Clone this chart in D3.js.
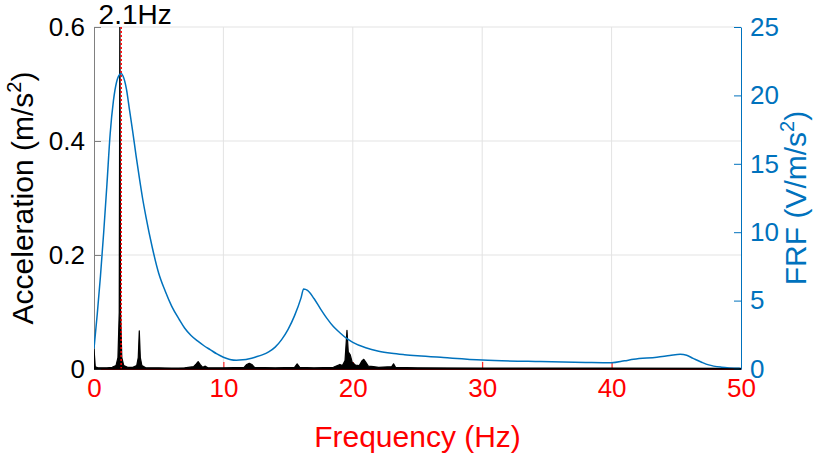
<!DOCTYPE html>
<html><head><meta charset="utf-8">
<script src="https://cdn.jsdelivr.net/npm/d3@7"></script>
<style>body{margin:0;background:#fff}svg{display:block;font-family:"Liberation Sans",Arial,Helvetica,sans-serif}</style>
</head><body>
<svg id="c" width="830" height="464"></svg>
<script>
// ---- data ----
const xTicks = [0,10,20,30,40,50];
const yLeftTicks = [0,0.2,0.4,0.6];
const yRightTicks = [0,5,10,15,20,25];
const peakFreq = 2.1;
const peakLabel = "2.1Hz";

// FRF curve (Hz, V/m/s^2)
const frfFreq = [0,0.25,0.5,0.75,1.0,1.25,1.5,1.75,2.0,2.1,2.25,2.5,2.75,3.0,3.25,3.5,3.75,4.0,4.5,5.0,5.5,6.0,6.6,7.0,7.5,8.0,8.5,9.0,9.5,10,10.5,11.0,11.5,12,12.5,13,13.5,14,14.5,15,15.5,16.0,16.2,16.5,17,17.5,18,18.5,19,19.5,20,21,22,23,24,25,27,30,34.5,38,40,41,41.7,43.5,44.5,45.3,45.8,46.3,47,47.5,48.5,49.9];
const frfVal  = [1.5,4.0,6.8,10,13.5,17.2,19.6,21.0,21.55,21.6,21.4,20.5,18.9,17.3,15.6,14.0,12.5,11.2,8.9,7.0,5.7,4.6,3.6,3.0,2.45,2.05,1.7,1.4,1.1,0.86,0.7,0.64,0.67,0.75,0.88,1.03,1.25,1.6,2.15,2.9,3.9,5.2,5.85,5.75,5.15,4.4,3.7,3.1,2.65,2.25,1.95,1.55,1.3,1.15,1.05,0.97,0.84,0.66,0.54,0.48,0.46,0.6,0.71,0.86,0.98,1.07,1.0,0.78,0.48,0.3,0.13,0.05];

// Acceleration spectrum (Hz, m/s^2)
const accFreq = [0,0.1,0.3,0.6,1.0,1.4,1.7,1.85,1.95,2.0,2.05,2.15,2.3,2.6,3.0,3.3,3.42,3.5,3.58,3.7,4.0,5,6,7,7.7,7.9,8.05,8.2,8.4,8.6,8.8,10,11.6,11.8,12.0,12.2,12.4,14,15.5,15.7,15.9,17,18.5,19.0,19.2,19.4,19.55,19.65,19.8,19.95,20.2,20.5,20.7,20.85,21.0,21.2,21.6,22,23.0,23.15,23.3,25,30,40,50];
const accVal  = [0.035,0.004,0.002,0.002,0.002,0.003,0.006,0.02,0.1,0.65,0.1,0.02,0.006,0.003,0.003,0.006,0.02,0.067,0.02,0.006,0.002,0.002,0.0015,0.002,0.004,0.009,0.013,0.008,0.003,0.005,0.002,0.002,0.003,0.008,0.01,0.008,0.003,0.002,0.003,0.009,0.003,0.002,0.003,0.008,0.006,0.015,0.068,0.03,0.025,0.012,0.007,0.006,0.014,0.017,0.012,0.005,0.004,0.003,0.004,0.009,0.003,0.002,0.0015,0.0015,0.001];

// ---- chart ----
const svg = d3.select("#c");
const L=94, R=741, T=27, B=369;
const x = d3.scaleLinear([0,50],[L,R]);
const yL = d3.scaleLinear([0,0.6],[B,T]);
const yR = d3.scaleLinear([0,25],[B,T]);
const blue = "#0072BD", red = "#FF0000";

svg.append("clipPath").attr("id","clip").append("rect").attr("x",L).attr("y",T).attr("width",R-L).attr("height",B-T);

// grid
const grid = svg.append("g").attr("stroke","#e3e3e3").attr("stroke-width",1);
xTicks.slice(1,-1).forEach(v=>grid.append("line").attr("x1",x(v)).attr("x2",x(v)).attr("y1",T).attr("y2",B));
yLeftTicks.slice(1).forEach(v=>grid.append("line").attr("x1",L).attr("x2",R).attr("y1",yL(v)).attr("y2",yL(v)));

// x axis
const gx = svg.append("g").attr("transform",`translate(0,${B})`)
  .call(d3.axisBottom(x).tickValues(xTicks).tickSizeInner(-7).tickSizeOuter(0).tickPadding(10));
gx.select(".domain").attr("stroke",red);
gx.selectAll(".tick line").attr("stroke",red);
gx.selectAll(".tick text").attr("fill",red).attr("font-size",26).attr("font-family",null);

// left axis
const gl = svg.append("g").attr("transform",`translate(${L},0)`)
  .call(d3.axisLeft(yL).tickValues(yLeftTicks).tickFormat(d=>d===0?"0":d3.format(".1f")(d)).tickSizeInner(-7).tickSizeOuter(0).tickPadding(9));
gl.select(".domain").attr("stroke","#808080");
gl.selectAll(".tick line").attr("stroke","#808080");
gl.selectAll(".tick text").attr("fill","#000").attr("font-size",26).attr("font-family",null);

// right axis
const gr = svg.append("g").attr("transform",`translate(${R},0)`)
  .call(d3.axisRight(yR).tickValues(yRightTicks).tickSizeInner(-7).tickSizeOuter(0).tickPadding(9));
gr.select(".domain").attr("stroke",blue);
gr.selectAll(".tick line").attr("stroke",blue);
gr.selectAll(".tick text").attr("fill",blue).attr("font-size",26).attr("font-family",null);

// data
const plot = svg.append("g").attr("clip-path","url(#clip)");
const acc = accFreq.map((f,i)=>[f,accVal[i]]);
plot.append("path").datum(acc)
  .attr("d",d3.area().x(d=>x(d[0])).y0(yL(0)).y1(d=>yL(d[1])))
  .attr("fill","#000").attr("stroke","#000").attr("stroke-width",1.2).attr("stroke-linejoin","round");

plot.append("line").attr("x1",x(peakFreq)).attr("x2",x(peakFreq)).attr("y1",T).attr("y2",B)
  .attr("stroke",red).attr("stroke-width",1.5).attr("stroke-dasharray","2,2");

const frf = frfFreq.map((f,i)=>[f,frfVal[i]]);
plot.append("path").datum(frf)
  .attr("d",d3.line().x(d=>x(d[0])).y(d=>yR(d[1])).curve(d3.curveMonotoneX))
  .attr("fill","none").attr("stroke",blue).attr("stroke-width",1.5);

// baseline
svg.append("line").attr("x1",L).attr("x2",R).attr("y1",B).attr("y2",B).attr("stroke","#000").attr("stroke-width",1.5);

// peak label
svg.append("text").attr("x",x(peakFreq)+14).attr("y",T-3).attr("text-anchor","middle")
  .attr("font-size",28).attr("fill","#000").text(peakLabel);

// titles
svg.append("text").attr("x",(L+R)/2).attr("y",447).attr("text-anchor","middle")
  .attr("font-size",30).attr("fill",red).text("Frequency (Hz)");

const lt = svg.append("text").attr("transform",`translate(33,${(T+B)/2}) rotate(-90)`).attr("text-anchor","middle")
  .attr("font-size",30).attr("fill","#000");
lt.append("tspan").text("Acceleration (m/s");
lt.append("tspan").attr("font-size",20).attr("dy",-12).text("2");
lt.append("tspan").attr("dy",12).text(")");

const rt = svg.append("text").attr("transform",`translate(806,${(T+B)/2}) rotate(-90)`).attr("text-anchor","middle")
  .attr("font-size",30).attr("fill",blue);
rt.append("tspan").text("FRF (V/m/s");
rt.append("tspan").attr("font-size",20).attr("dy",-12).text("2");
rt.append("tspan").attr("dy",12).text(")");
</script>
</body></html>
